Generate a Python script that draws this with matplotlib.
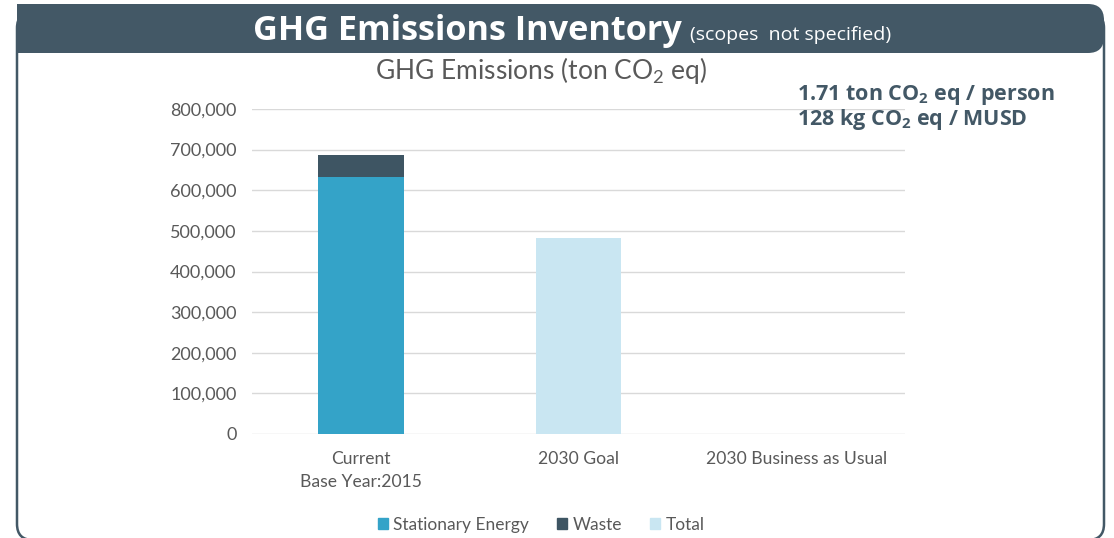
import matplotlib.pyplot as plt
from matplotlib.patches import FancyBboxPatch, Rectangle, Patch
from matplotlib.ticker import FuncFormatter

plt.rcParams["font.family"] = ["Lato", "DejaVu Sans"]
plt.rcParams["mathtext.fontset"] = "custom"
plt.rcParams["mathtext.rm"] = "Lato"
plt.rcParams["mathtext.bf"] = "Lato:bold"
plt.rcParams["mathtext.default"] = "regular"

# data
categories = ["Current\nBase Year:2015", "2030 Goal", "2030 Business as Usual"]
stationary_energy = [633000, 0, 0]
waste = [55000, 0, 0]
total = [0, 482000, 0]
yticks = [0, 100000, 200000, 300000, 400000, 500000, 600000, 700000, 800000]

DARK = "#435866"
GREY_TXT = "#595959"
C_ENERGY = "#34a3c8"
C_WASTE = "#3e5563"
C_TOTAL = "#c9e6f2"

W, H = 1114, 538
fig = plt.figure(figsize=(W / 100, H / 100), dpi=100)

# background frame drawn in pixel coordinates
bg = fig.add_axes([0, 0, 1, 1])
bg.set_xlim(0, W)
bg.set_ylim(H, 0)
bg.axis("off")
bg.add_patch(FancyBboxPatch((17, 12), 1087, 528, boxstyle="round,pad=0,rounding_size=16",
                            fc="white", ec=DARK, lw=1.8))
bg.add_patch(FancyBboxPatch((17, 4), 1087, 49, boxstyle="round,pad=0,rounding_size=16",
                            fc=DARK, ec="none"))
bg.add_patch(Rectangle((17, 4), 200, 49, fc=DARK, ec="none"))

fig.text(253 / W, 1 - 31 / H, "GHG Emissions Inventory", color="white", fontsize=24.7,
         fontweight="bold", family=["Open Sans", "DejaVu Sans"], ha="left", va="center")
fig.text(690 / W, 1 - 35 / H, "(scopes  not specified)", color="white", fontsize=14,
         family=["Open Sans", "DejaVu Sans"], ha="left", va="center")

fig.text(541 / W, 1 - 70 / H, "GHG Emissions (ton CO$_2$ eq)", color=GREY_TXT,
         fontsize=19, ha="center", va="center")
fig.text(797 / W, 1 - 95 / H, "1.71 ton CO$_2$ eq / person", color=DARK, fontsize=15.5,
         fontweight="bold", family=["Open Sans", "DejaVu Sans"], ha="left", va="center")
fig.text(797 / W, 1 - 119 / H, "128 kg CO$_2$ eq / MUSD", color=DARK, fontsize=15.5,
         fontweight="bold", family=["Open Sans", "DejaVu Sans"], ha="left", va="center")

# chart
ax = fig.add_axes([252 / W, 1 - 434 / H, 653 / W, 325 / H])
ax.set_facecolor("none")
x = range(len(categories))
bw = 0.395
ax.bar(x, stationary_energy, bw, color=C_ENERGY, label="Stationary Energy", zorder=3)
ax.bar(x, waste, bw, bottom=stationary_energy, color=C_WASTE, label="Waste", zorder=3)
ax.bar(x, total, bw, color=C_TOTAL, label="Total", zorder=3)

ax.set_xlim(-0.5, 2.5)
ax.set_ylim(0, 800000)
ax.set_yticks(yticks)
ax.yaxis.set_major_formatter(FuncFormatter(lambda v, p: f"{int(v):,}"))
ax.set_xticks(list(x))
ax.set_xticklabels(categories, linespacing=1.55)
ax.tick_params(axis="y", length=0, labelsize=13, colors=GREY_TXT, pad=11)
ax.tick_params(axis="x", length=0, labelsize=12.6, colors=GREY_TXT, pad=12)
ax.grid(axis="y", color="#d9d9d9", lw=1, zorder=0)
for s in ax.spines.values():
    s.set_visible(False)

handles = [Patch(color=C_ENERGY), Patch(color=C_WASTE), Patch(color=C_TOTAL)]
fig.legend(handles, ["Stationary Energy", "Waste", "Total"], loc="center",
           bbox_to_anchor=(541 / W, 1 - 525 / H), ncol=3, frameon=False, fontsize=12.5,
           handlelength=0.6, handleheight=0.6, handletextpad=0.3, columnspacing=1.6,
           labelcolor=GREY_TXT)

fig.savefig("out.png", dpi=100)
